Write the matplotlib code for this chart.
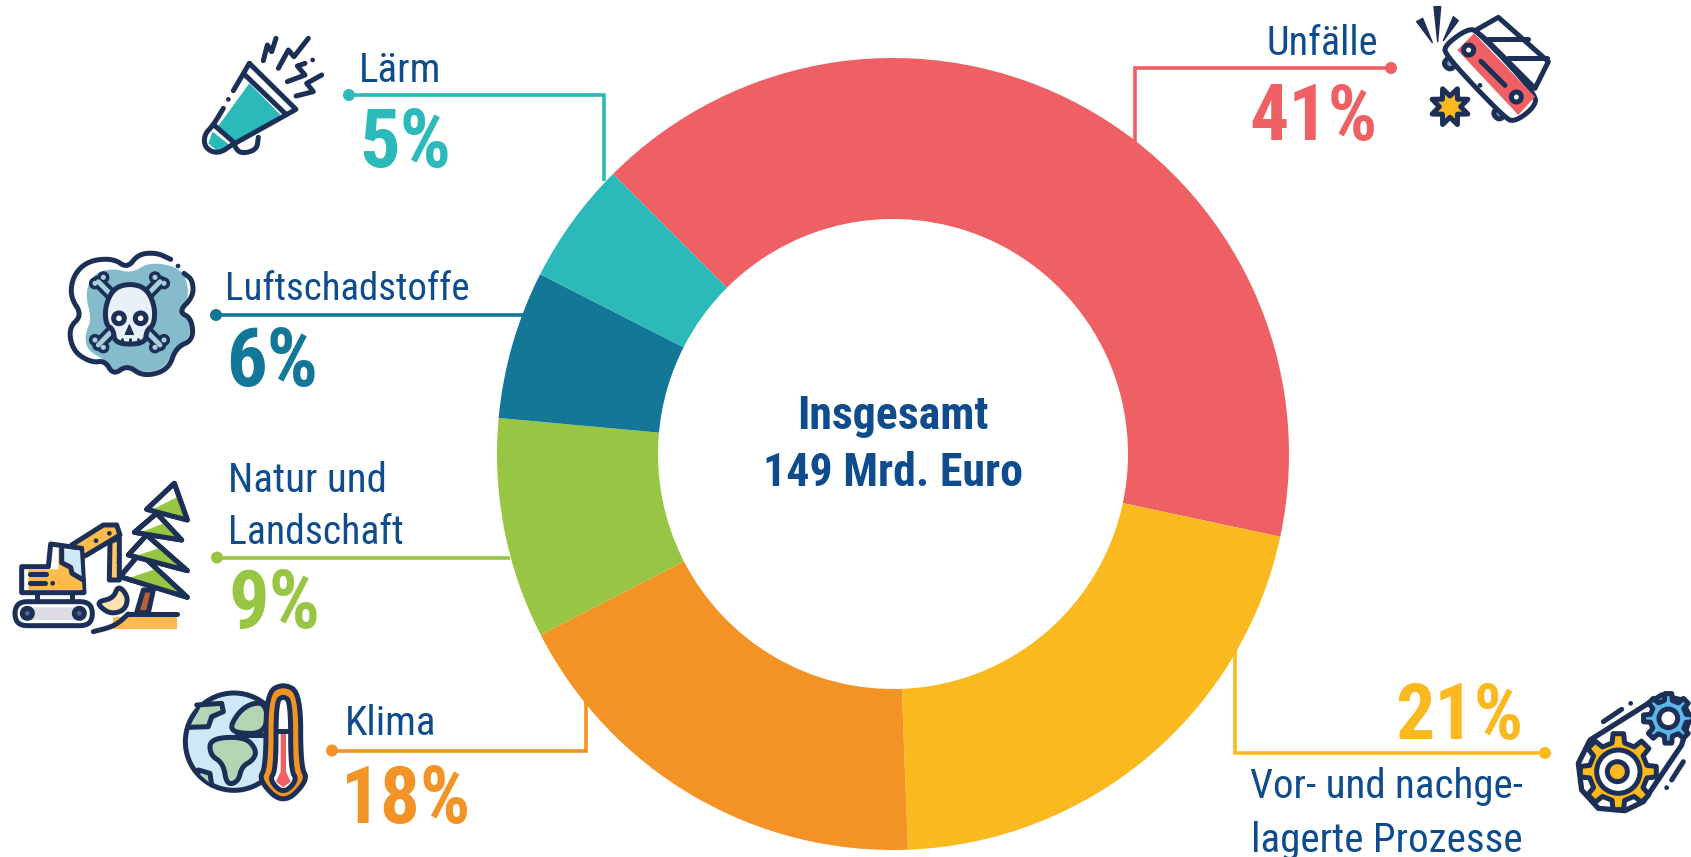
import matplotlib
matplotlib.use('Agg')
import matplotlib.pyplot as plt
from matplotlib.patches import Circle, Polygon, FancyBboxPatch
import numpy as np
from itertools import count

W, H = 1691, 857
NAVY = '#1C2F56'
TXT = '#0F4C8E'
SW = 3.6

# data
categories = ['Unfälle', 'Vor- und nachgelagerte Prozesse', 'Klima', 'Natur und Landschaft', 'Luftschadstoffe', 'Lärm']
shares = [41, 21, 18, 9, 6, 5]
# slice sizes as measured in the picture (printed labels are rounded)
slices = [40.85, 21.05, 18.05, 9.0, 6.05, 5.0]
colors = ['#EE6064', '#FBB920', '#F39325', '#99C544', '#137898', '#2CB9B9']
total_lines = ['Insgesamt', '149 Mrd. Euro']

plt.rcParams['font.family'] = ['Roboto Condensed', 'Barlow Semi Condensed', 'Liberation Sans', 'DejaVu Sans']

fig = plt.figure(figsize=(W / 100, H / 100), dpi=100, facecolor='white')

# donut
cx, cy, R, r = 893, 454, 396, 235
ax_pie = fig.add_axes([(cx - R) / W, 1 - (cy + R) / H, 2 * R / W, 2 * R / H])
ax_pie.pie(slices, colors=colors, startangle=135, counterclock=False, radius=1,
           wedgeprops={'width': 1 - r / R, 'linewidth': 0})
ax_pie.set_xlim(-1, 1)
ax_pie.set_ylim(-1, 1)

# overlay in pixels
ax = fig.add_axes([0, 0, 1, 1], zorder=5)
ax.set_xlim(0, W)
ax.set_ylim(H, 0)
ax.axis('off')
ax.patch.set_alpha(0)
z = count(10)


def leader(pts, col):
    xs, ys = zip(*pts)
    ax.plot(xs, ys, color=col, lw=2.6, solid_capstyle='butt', solid_joinstyle='miter')
    ax.add_patch(Circle(pts[-1], 6, color=col, lw=0))


def label(x, y, s, col=TXT, size=29.5, ha='left', bold=False):
    ax.text(x, y, s, color=col, fontsize=size, ha=ha, va='baseline',
            fontweight='bold' if bold else 'normal')


leader([(1134.5, 142), (1134.5, 68), (1391, 68)], colors[0])
leader([(1235, 647), (1235, 753), (1545, 753)], colors[1])
leader([(586, 701), (586, 750.5), (332, 750.5)], colors[2])
leader([(510, 557.5), (217, 557.5)], colors[3])
leader([(525, 315), (216, 315)], colors[4])
leader([(604, 181), (604, 95), (349, 95)], colors[5])

label(1378, 55, categories[0], size=29, ha='right')
label(1378, 140, f'{shares[0]}%', colors[0], 56, 'right', True)
label(1523, 739, f'{shares[1]}%', colors[1], 56, 'right', True)
label(1523, 798, 'Vor- und nachge-', ha='right')
label(1523, 852, 'lagerte Prozesse', ha='right')
label(345, 735, categories[2])
label(341, 823, f'{shares[2]}%', colors[2], 57, bold=True)
label(228, 492, 'Natur und')
label(228, 544, 'Landschaft', size=28.5)
label(229, 628, f'{shares[3]}%', colors[3], 58, bold=True)
label(225, 300, categories[4], size=28)
label(226, 386, f'{shares[4]}%', colors[4], 58, bold=True)
label(359, 82, categories[5])
label(359, 167, f'{shares[5]}%', colors[5], 58, bold=True)

label(cx, 429, total_lines[0], ha='center', size=33, bold=True)
label(cx, 486, total_lines[1], ha='center', size=33, bold=True)


# icons, traced in crop coordinates (3x zoom)
def smooth(pts, closed=True, n=3):
    p = np.array(pts, float)
    for _ in range(n):
        q = np.roll(p, -1, axis=0) if closed else p[1:]
        a = p if closed else p[:-1]
        new = np.empty((len(a) * 2, 2))
        new[0::2] = 0.75 * a + 0.25 * q
        new[1::2] = 0.25 * a + 0.75 * q
        p = new if closed else np.vstack([pts[0], new, pts[-1]])
    return p


class Icon:
    def __init__(self, x0, y0):
        self.x0, self.y0 = x0, y0

    def tr(self, pts):
        return np.array(pts, float) / 3 + [self.x0, self.y0]

    def fill(self, pts, col, soft=False):
        p = smooth(pts) if soft else pts
        ax.add_patch(Polygon(self.tr(p), closed=True, fc=col, ec='none', zorder=next(z)))

    def shape(self, pts, col, soft=False, lw=SW):
        p = smooth(pts) if soft else pts
        ax.add_patch(Polygon(self.tr(p), closed=True, fc=col, ec=NAVY, lw=lw, joinstyle='round', zorder=next(z)))

    def line(self, pts, col=NAVY, lw=SW, soft=False):
        p = self.tr(smooth(pts, closed=False) if soft else pts)
        ax.plot(p[:, 0], p[:, 1], color=col, lw=lw, solid_capstyle='round', solid_joinstyle='round', zorder=next(z))

    def circ(self, c, rad, fc=NAVY, ec='none', lw=SW):
        ax.add_patch(Circle(self.tr([c])[0], rad / 3, fc=fc, ec=ec, lw=lw, zorder=next(z)))

    def box(self, xy, w, h, rad, fc, ec='none', lw=SW):
        ax.add_patch(FancyBboxPatch(self.tr([xy])[0], w / 3, h / 3, boxstyle=f'round,pad=0,rounding_size={rad / 3}',
                                    fc=fc, ec=ec, lw=lw, zorder=next(z)))


# megaphone
i = Icon(190, 20)
i.fill([(178, 190), (272, 285), (135, 368), (82, 322)], colors[5])
i.fill([(68, 335), (125, 380), (85, 395), (55, 370)], colors[5])
i.line([(178, 130), (318, 268), (135, 370), (72, 315)])
i.line([(178, 130), (130, 212)])
i.line([(165, 165), (285, 280)])
i.line([(100, 265), (70, 315), (42, 345), (45, 385), (85, 402), (130, 372)], soft=True)
i.line([(130, 372), (150, 402), (200, 390), (205, 352)], soft=True)
i.circ((115, 238), 7)
i.circ((368, 120), 7)
i.line([(220, 122), (232, 75), (245, 95), (258, 55)])
i.line([(265, 145), (295, 90), (312, 110), (355, 55)])
i.line([(292, 185), (345, 165), (322, 138), (345, 130)])
i.line([(318, 228), (370, 215), (350, 190), (395, 165)])

# skull cloud
i = Icon(50, 240)
i.fill([(300, 65), (400, 85), (420, 170), (385, 215), (420, 240), (420, 295), (375, 320), (345, 385),
        (280, 400), (230, 375), (195, 395), (165, 360), (110, 330), (105, 280), (125, 240), (105, 160),
        (130, 100), (190, 85), (245, 100)], '#85BBCB', soft=True)
i.line([(362, 58), (320, 38), (265, 42), (232, 85), (190, 55), (115, 62), (70, 105), (60, 170), (97, 225),
        (55, 265), (70, 335), (125, 368), (165, 362), (190, 405), (232, 375), (280, 410), (355, 390), (378, 322),
        (430, 300), (425, 235), (385, 215), (430, 170), (428, 120), (402, 100)], soft=True)
i.circ((384, 78), 7)
for a, b in [((145, 125), (330, 315)), ((330, 125), (145, 315))]:
    i.line([a, b], lw=9)
for c in [(135, 130), (160, 112), (315, 112), (342, 130), (135, 300), (160, 322), (315, 322), (342, 300)]:
    i.circ(c, 13, fc='#A9CFDA', ec=NAVY, lw=2.5)
for a, b in [((145, 125), (330, 315)), ((330, 125), (145, 315))]:
    i.line([a, b], col='#A9CFDA', lw=3.5)
i.shape([(165, 200), (190, 145), (240, 130), (290, 145), (315, 200), (312, 255), (290, 270), (285, 312),
         (195, 312), (190, 268), (168, 255)], '#EAF0F8', soft=True)
i.circ((207, 235), 16, fc='white', ec=NAVY)
i.circ((272, 235), 16, fc='white', ec=NAVY)
i.shape([(238, 255), (226, 283), (250, 283)], NAVY, lw=1)
for tx in (215, 240, 263):
    i.line([(tx, 297), (tx, 312)], lw=2)

# excavator and tree
i = Icon(0, 470)
i.fill([(340, 440), (530, 440), (530, 478), (340, 478)], '#FDBB4F')
i.shape([(430, 360), (460, 360), (445, 428), (410, 428)], '#B5623A')
tiers = [[(420, 250), (360, 320), (562, 382)], [(440, 195), (385, 255), (562, 302)],
         [(470, 130), (403, 187), (545, 210)], [(523, 40), (440, 118), (562, 150)]]
for t in tiers:
    a, b, c = [np.array(v, float) for v in t]
    i.shape(t, 'white')
    i.fill([a + 0.35 * (c - a), c, b + 0.1 * (c - b)], colors[3])
    i.shape(t, 'none')
i.line([(380, 432), (530, 432)])
i.line([(385, 432), (345, 468), (280, 485)], soft=True)
i.shape([(215, 225), (310, 165), (350, 165), (360, 195), (260, 255), (240, 265)], '#FDBB4F')
i.shape([(330, 215), (358, 205), (358, 330), (328, 330)], '#FDC76A')
i.circ((288, 212), 7)
i.circ((328, 190), 7)
i.circ((357, 278), 7)
i.shape([(65, 290), (145, 290), (152, 222), (245, 235), (252, 368), (65, 368)], 'white')
i.fill([(85, 298), (175, 298), (175, 235), (245, 320), (248, 360), (85, 360)], '#FDBB4F')
i.fill([(190, 238), (240, 242), (245, 320), (218, 305), (215, 290), (190, 272)], '#CFE8F7')
i.line([(185, 232), (185, 278), (212, 292), (216, 310), (250, 330)])
i.line([(90, 313), (138, 313)])
i.line([(90, 340), (135, 340)])
i.circ((158, 340), 7)
i.line([(110, 370), (110, 390)])
i.line([(215, 370), (215, 390)])
i.box((45, 395), 232, 72, 36, 'white', NAVY)
i.box((65, 412), 190, 38, 18, '#DCDCE6')
i.circ((82, 430), 15, fc='#55607A', ec=NAVY)
i.circ((238, 430), 15, fc='#55607A', ec=NAVY)
i.shape([(355, 345), (385, 380), (375, 420), (335, 432), (305, 415), (292, 395), (340, 385)], '#FDE3B0', soft=True)

# globe with thermometer
i = Icon(170, 670)
i.circ((192, 215), 146, fc='#CFE8F7', ec=NAVY)
i.fill([(58, 175), (95, 105), (155, 100), (160, 125), (115, 170)], '#B4D5B4')
i.line([(80, 105), (155, 100), (160, 125), (125, 140), (115, 170), (55, 172)])
i.shape([(120, 205), (225, 200), (260, 240), (250, 270), (215, 290), (205, 335), (170, 345), (160, 280),
         (120, 255)], '#B4D5B4', soft=True)
i.shape([(180, 165), (225, 105), (290, 95), (290, 190), (195, 190)], '#B4D5B4', soft=True)
i.fill([(88, 312), (118, 315), (120, 340)], '#B4D5B4')
i.line([(85, 300), (120, 310), (125, 345)])
i.line([(200, 195), (290, 195)])
th = [(288, 290), (288, 70), (340, 40), (392, 70), (392, 290), (415, 330), (340, 405), (265, 330)]
i.shape(th, colors[2], soft=True)
i.shape([(318, 300), (318, 95), (340, 78), (362, 95), (362, 300), (382, 330), (340, 372), (298, 330)], 'white', soft=True)
i.fill([(332, 190), (348, 190), (348, 305), (362, 335), (340, 352), (318, 335), (332, 305)], colors[0])
i.line([(320, 182), (360, 182)])

# car
i = Icon(1400, 0)
for p in [(150, 190), (298, 340)]:
    i.shape([(p[0] - 22, p[1]), (p[0], p[1] - 22), (p[0] + 22, p[1]), (p[0], p[1] + 22)], '#8E99B0', soft=True)
i.shape([(225, 92), (295, 52), (445, 185), (405, 265), (260, 120)], 'white')
i.line([(265, 118), (385, 118)])
i.line([(325, 175), (440, 175)])
i.shape([(135, 135), (205, 85), (235, 95), (412, 285), (400, 325), (345, 365), (315, 355), (135, 165)], 'white', soft=True)
i.fill([(172, 150), (222, 100), (405, 290), (355, 345)], colors[0])
i.circ((206, 150), 15, fc='white', ec=NAVY)
i.circ((349, 291), 15, fc='white', ec=NAVY)
i.line([(243, 184), (315, 256)])
i.circ((240, 256), 7)
i.shape([(102, 20), (122, 20), (113, 125)], NAVY, lw=1)
i.shape([(50, 65), (68, 55), (97, 128)], NAVY, lw=1)
i.shape([(160, 50), (175, 62), (130, 122)], NAVY, lw=1)
ang = np.deg2rad(np.arange(0, 360, 45) + 22.5 - 90)
star = []
for k in range(8):
    star.append((150 + 58 * np.cos(ang[k]), 320 + 58 * np.sin(ang[k])))
    star.append((150 + 32 * np.cos(ang[k] + np.pi / 8), 320 + 32 * np.sin(ang[k] + np.pi / 8)))
i.shape(star, colors[1])


# gears
def gear(ic, c, rout, rin, col, teeth=8):
    pts = []
    for k in range(teeth):
        a = 2 * np.pi * k / teeth
        d = np.pi / teeth
        for aa, rr in [(a - 0.55 * d, rin), (a - 0.35 * d, rout), (a + 0.35 * d, rout), (a + 0.55 * d, rin)]:
            pts.append((c[0] + rr * np.cos(aa), c[1] + rr * np.sin(aa)))
    ic.shape(pts, col)


i = Icon(1560, 680)
i.shape([(305, 45), (90, 180), (55, 250), (65, 330), (115, 385), (195, 392), (250, 365), (365, 195), (390, 110),
         (365, 60)], 'white', lw=3.8)
gear(i, (175, 275), 115, 88, colors[1])
i.circ((175, 275), 65, fc='white', ec=NAVY)
i.circ((172, 275), 30, fc=colors[1], ec=NAVY)
gear(i, (325, 115), 75, 55, '#5CB8E8')
i.circ((325, 115), 28, fc='white', ec=NAVY)
i.line([(130, 125), (185, 88)])
i.circ((212, 70), 7)
i.line([(335, 300), (370, 245)])
i.circ((320, 323), 7)

fig.savefig('out.png', dpi=100, facecolor='white')
